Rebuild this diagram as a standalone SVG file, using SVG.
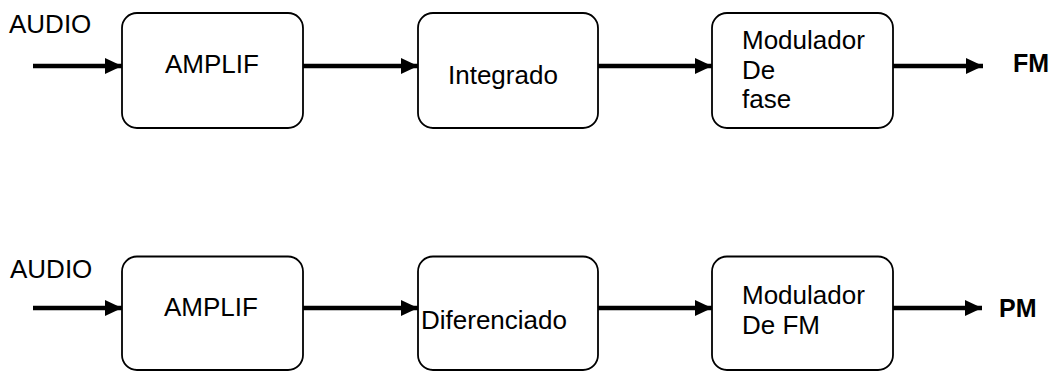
<svg xmlns="http://www.w3.org/2000/svg" width="1052" height="371" viewBox="0 0 1052 371">
<style>
.box{fill:#fff;stroke:#000;stroke-width:1.8}
.t{font-family:"Liberation Sans",Arial,sans-serif;font-size:26px;fill:#000}
.b{font-family:"Liberation Sans",Arial,sans-serif;font-size:25px;font-weight:bold;fill:#000}
.c{stroke:#000;stroke-width:4.5;fill:none;marker-end:url(#ah)}
</style>
<defs>
<marker id="ah" markerUnits="userSpaceOnUse" markerWidth="18" markerHeight="18" refX="17" refY="8" orient="auto" viewBox="0 0 18 16">
<path d="M0,0 L17,8 L0,16 z" fill="#000"/>
</marker>
</defs>
<rect width="1052" height="371" fill="#fff"/>
<g id="connectors">
<line class="c" x1="33" y1="66" x2="122" y2="66"/>
<line class="c" x1="303" y1="66" x2="418" y2="66"/>
<line class="c" x1="598" y1="66" x2="712" y2="66"/>
<line class="c" x1="893" y1="66" x2="983" y2="66"/>
<line class="c" x1="33" y1="308" x2="122" y2="308"/>
<line class="c" x1="303" y1="308" x2="418" y2="308"/>
<line class="c" x1="598" y1="308" x2="712" y2="308"/>
<line class="c" x1="893" y1="308" x2="982" y2="308"/>
</g>
<g id="audio1"><text class="t" x="9" y="33">AUDIO</text></g>
<g id="amplif1">
<rect class="box" x="122" y="13" width="181" height="115" rx="15"/>
<text class="t" x="165" y="73">AMPLIF</text>
</g>
<g id="integrado">
<rect class="box" x="418" y="13" width="180" height="115" rx="15"/>
<text class="t" x="448" y="84" font-size="25">Integrado</text>
</g>
<g id="modfase">
<rect class="box" x="712" y="13" width="181" height="115" rx="15"/>
<text class="t" x="742" y="49">Modulador</text>
<text class="t" x="742" y="79">De</text>
<text class="t" x="742" y="108">fase</text>
</g>
<g id="fm"><text class="b" x="1013" y="72">FM</text></g>
<g id="audio2"><text class="t" x="10" y="278">AUDIO</text></g>
<g id="amplif2">
<rect class="box" x="122" y="256.5" width="181" height="113.5" rx="15"/>
<text class="t" x="164" y="316">AMPLIF</text>
</g>
<g id="diferenciado">
<rect class="box" x="418" y="256.5" width="180" height="113.5" rx="15"/>
<text class="t" x="421" y="329">Diferenciado</text>
</g>
<g id="modfm">
<rect class="box" x="712" y="256.5" width="181" height="113.5" rx="15"/>
<text class="t" x="742" y="304">Modulador</text>
<text class="t" x="742" y="334">De FM</text>
</g>
<g id="pm"><text class="b" x="999" y="317">PM</text></g>
</svg>
